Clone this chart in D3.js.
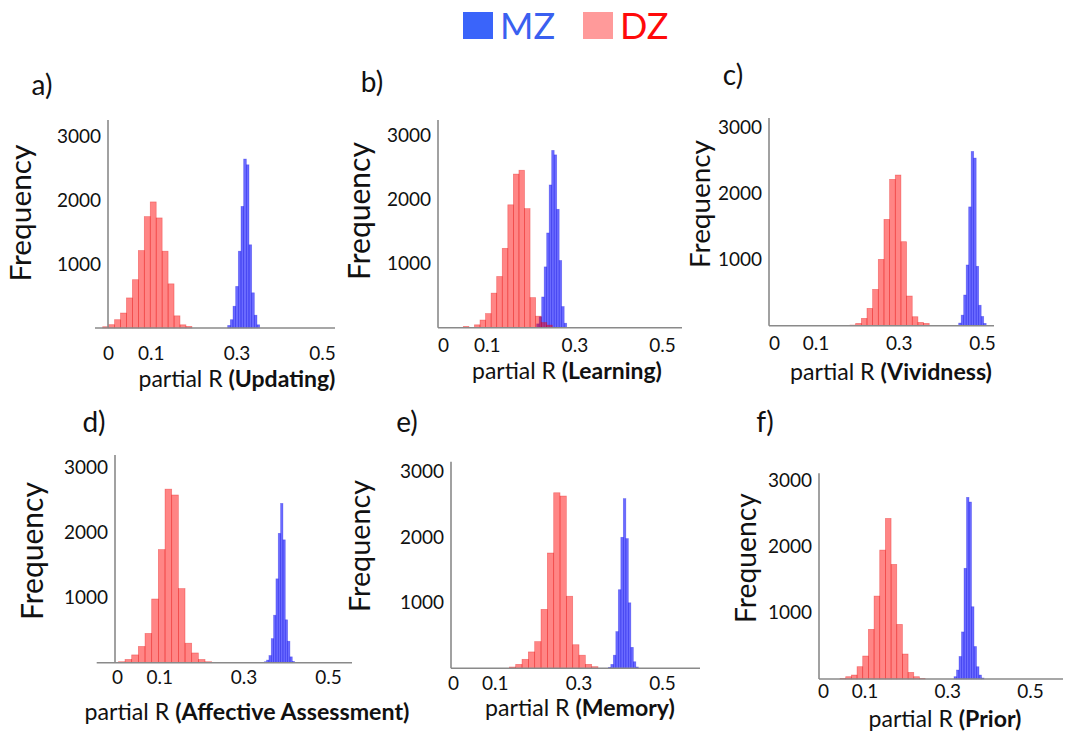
<!DOCTYPE html>
<html><head><meta charset="utf-8">
<script src="https://cdn.jsdelivr.net/npm/d3@7"></script>
<style>
body{margin:0;background:#fff}
text{font-family:Lato,"Open Sans",sans-serif;fill:#111}
</style>
</head><body>
<svg id="chart" width="1073" height="733"></svg>
<script>
// ---------- data ----------
const panelLetters = ["a)", "b)", "c)", "d)", "e)", "f)"];
const measures = ["Updating", "Learning", "Vividness", "Affective Assessment", "Memory", "Prior"];
const seriesNames = ["MZ", "DZ"];
const xTickValues = [0, 0.1, 0.3, 0.5];
const yTickValues = [1000, 2000, 3000];

// DZ histograms: left edge of first bin, bin width, counts
const dzStart = [-0.0125, 0.0464, 0.1827, -0.0126, 0.1348, 0.0411];
const dzWidth = [0.0139, 0.0127, 0.0136, 0.0158, 0.01515, 0.0137];
const dzCountsA = [20, 52, 130, 234, 470, 755, 1210, 1740, 1970, 1720, 1200, 690, 190, 50, 25];
const dzCountsB = [20, 5, 45, 120, 220, 540, 800, 1240, 1920, 2400, 2460, 1860, 470, 180, 80, 40];
const dzCountsC = [10, 35, 111, 263, 550, 1005, 1611, 2217, 2283, 1273, 450, 136, 50, 35];
const dzCountsD = [5, 15, 50, 120, 250, 450, 980, 1740, 2670, 2580, 1140, 300, 150, 50, 15];
const dzCountsE = [20, 60, 137, 250, 407, 900, 1760, 2680, 2630, 1100, 360, 200, 60, 25];
const dzCountsF = [10, 35, 60, 186, 347, 749, 1251, 1945, 2422, 1729, 824, 377, 100, 35, 10];

// MZ histograms
const mzStart = [0.2796, 0.2139, 0.4439, 0.349, 0.3716, 0.3164];
const mzWidth = [0.00623, 0.00571, 0.00601, 0.00553, 0.00598, 0.00604];
const mzCountsA = [40, 130, 340, 650, 1200, 1900, 2640, 2550, 1300, 550, 200, 50];
const mzCountsB = [60, 170, 480, 950, 1480, 2230, 2770, 2700, 1850, 1050, 330, 70];
const mzCountsC = [40, 160, 465, 920, 1800, 2640, 2540, 900, 310, 140, 35];
const mzCountsD = [15, 40, 110, 370, 730, 1290, 1990, 2450, 1890, 660, 330, 90, 20];
const mzCountsE = [15, 60, 200, 560, 1200, 2000, 2590, 1980, 1000, 320, 100, 20];
const mzCountsF = [35, 135, 340, 710, 1670, 2740, 2670, 1090, 490, 185, 60, 15];

const dzCounts = [dzCountsA, dzCountsB, dzCountsC, dzCountsD, dzCountsE, dzCountsF];
const mzCounts = [mzCountsA, mzCountsB, mzCountsC, mzCountsD, mzCountsE, mzCountsF];

// ---------- layout ----------
const layout = [
  {dom:[-0.0304,0.5304], rng:[95,335],   yAx:108, base:328,   top:120,   yMax:3250, pad:18.2, letter:[42,85],  freq:[23,213],  fw:137, xl:[237,380], xw:197},
  {dom:[-0.0114,0.5457], rng:[438,682],  yAx:438, base:327.7, top:120,   yMax:3245, pad:10.5, letter:[372,82], freq:[362,211], fw:138, xl:[567,372], xw:190},
  {dom:[-0.012,0.5288],  rng:[769,994],  yAx:769, base:325.7, top:118,   yMax:3147, pad:10.8, letter:[733,75], freq:[702,204], fw:128, xl:[891,373], xw:202},
  {dom:[-0.0481,0.5569], rng:[96.7,352], yAx:115, base:662.7, top:455,   yMax:3195, pad:8.2,  letter:[94,422], freq:[35,551],  fw:138, xl:[247,713], xw:325},
  {dom:[-0.0048,0.5909], rng:[451,700],  yAx:451, base:668.3, top:461.7, yMax:3154, pad:8.4,  letter:[407,422],freq:[362,546], fw:132, xl:[580,709], xw:190},
  {dom:[-0.0097,0.5797], rng:[819,1063], yAx:819, base:679,   top:473.3, yMax:3103, pad:5.9,  letter:[765,422],freq:[748,558], fw:130, xl:[945,720], xw:153}
];

const svg = d3.select("#chart");
const axisColor = "#8a8a8a";
const tickFont = 19;

function fitText(sel, target) {
  const node = sel.node();
  const fs = parseFloat(sel.attr("font-size"));
  const len = node.getComputedTextLength();
  if (len > 0) sel.attr("font-size", fs * target / len);
}

function drawHist(g, xs, ys, start, w, counts, fill, stroke) {
  g.append("g").selectAll("rect").data(counts).join("rect")
    .attr("x", (d, i) => xs(start + i * w))
    .attr("width", (d, i) => xs(start + (i + 1) * w) - xs(start + i * w))
    .attr("y", d => ys(d))
    .attr("height", d => ys(0) - ys(d))
    .attr("fill", fill)
    .attr("stroke", stroke)
    .attr("stroke-width", 0.7);
}

layout.forEach((L, p) => {
  const g = svg.append("g");
  const xs = d3.scaleLinear().domain(L.dom).range(L.rng);
  const ys = d3.scaleLinear().domain([0, L.yMax]).range([L.base, L.top]);

  drawHist(g, xs, ys, mzStart[p], mzWidth[p], mzCounts[p], "rgba(0,0,255,0.58)", "rgba(0,0,220,0.35)");
  drawHist(g, xs, ys, dzStart[p], dzWidth[p], dzCounts[p], "rgba(255,0,0,0.48)", "rgba(225,0,0,0.38)");

  // x axis
  const xa = g.append("g").attr("transform", `translate(0,${L.base})`)
    .call(d3.axisBottom(xs).tickValues(xTickValues).tickSize(0).tickPadding(L.pad).tickFormat(d => String(d)));
  xa.select(".domain").remove();
  xa.selectAll("text").attr("font-size", tickFont).attr("fill", "#111").attr("font-family", "Lato");
  g.append("line").attr("x1", L.rng[0]).attr("x2", L.rng[1]).attr("y1", L.base).attr("y2", L.base)
    .attr("stroke", axisColor).attr("stroke-width", 1.6);

  // y axis
  const ya = g.append("g").attr("transform", `translate(${L.yAx},0)`)
    .call(d3.axisLeft(ys).tickValues(yTickValues).tickSize(0).tickPadding(7).tickFormat(d => String(d)));
  ya.select(".domain").remove();
  ya.selectAll("text").attr("font-size", tickFont).attr("fill", "#111").attr("font-family", "Lato");
  g.append("line").attr("x1", L.yAx).attr("x2", L.yAx).attr("y1", L.base).attr("y2", L.top)
    .attr("stroke", axisColor).attr("stroke-width", 1.6);

  // panel letter
  g.append("text").attr("x", L.letter[0]).attr("y", L.letter[1]).attr("dy", "0.36em")
    .attr("text-anchor", "middle").attr("font-size", 28).text(panelLetters[p]);

  // y label
  const fy = g.append("text").attr("transform", `translate(${L.freq[0]},${L.freq[1]}) rotate(-90)`)
    .attr("dy", "0.28em").attr("text-anchor", "middle").attr("font-size", 27).text("Frequency");
  fitText(fy, L.fw);

  // x label
  const tx = g.append("text").attr("x", L.xl[0]).attr("y", L.xl[1]).attr("dy", "0.32em")
    .attr("text-anchor", "middle").attr("font-size", 20);
  tx.append("tspan").text("partial R ");
  tx.append("tspan").attr("font-weight", "bold").text("(" + measures[p] + ")");
  fitText(tx, L.xw);
});

// legend
const legend = svg.append("g");
const legendColors = ["#3a64fa", "#ff9a9a"];
const legendText = ["#3a60f0", "#ff0a0a"];
const legendX = [463, 583];
seriesNames.forEach((s, i) => {
  legend.append("rect").attr("x", legendX[i]).attr("y", 12).attr("width", 30).attr("height", 27).attr("fill", legendColors[i]);
  legend.append("text").attr("x", legendX[i] + 37).attr("y", 39).attr("font-size", 36)
    .style("fill", legendText[i]).text(s);
});
</script>
</body></html>
